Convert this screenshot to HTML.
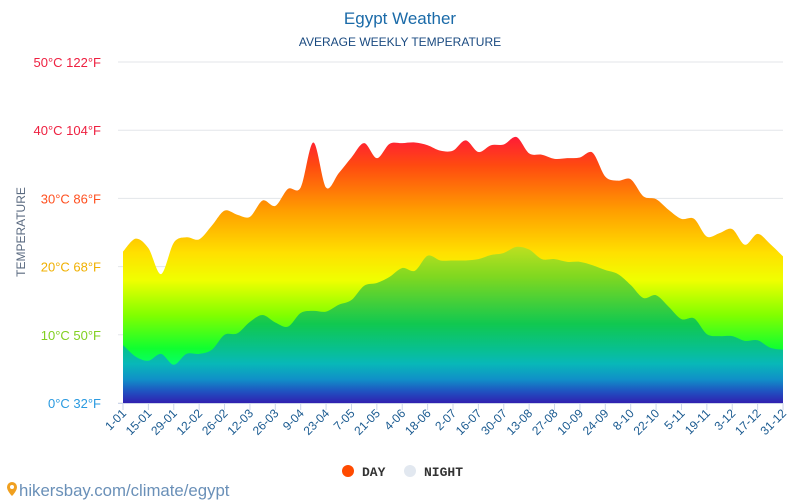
<!DOCTYPE html>
<html><head><meta charset="utf-8"><style>
body{margin:0;width:800px;height:500px;background:#fff;overflow:hidden;font-family:"Liberation Sans",sans-serif}
svg{display:block}
</style></head><body>
<svg id="chart" width="800" height="500">
<defs>
<linearGradient id="dayGrad" gradientUnits="userSpaceOnUse" x1="0" y1="130" x2="0" y2="403">
<stop offset="0" stop-color="#ff1040"/><stop offset="0.13" stop-color="#ff4a10"/><stop offset="0.3" stop-color="#ffa000"/>
<stop offset="0.45" stop-color="#ffe000"/><stop offset="0.55" stop-color="#f0ff00"/><stop offset="0.68" stop-color="#80ff00"/>
<stop offset="0.8" stop-color="#10ff30"/><stop offset="0.9" stop-color="#00ff90"/><stop offset="1" stop-color="#00ffb0"/>
</linearGradient>
<linearGradient id="nightGrad" gradientUnits="userSpaceOnUse" x1="0" y1="245" x2="0" y2="403">
<stop offset="0" stop-color="#c0e020"/><stop offset="0.2" stop-color="#80d820"/><stop offset="0.5" stop-color="#10c850"/>
<stop offset="0.66" stop-color="#08c090"/><stop offset="0.75" stop-color="#08b8b8"/><stop offset="0.85" stop-color="#1090c8"/>
<stop offset="0.93" stop-color="#2050c0"/><stop offset="1" stop-color="#3020b0"/>
</linearGradient>
</defs>
<text x="400" y="24" text-anchor="middle" font-size="17" fill="#1a6aa8">Egypt Weather</text>
<text x="400" y="46" text-anchor="middle" font-size="12" fill="#1a4a80">AVERAGE WEEKLY TEMPERATURE</text>
<text transform="translate(25,232) rotate(-90)" text-anchor="middle" font-size="12" fill="#5a6a80">TEMPERATURE</text>
<g id="grid"></g><g id="areas"></g><g id="xaxis"></g>
<g>
<g><circle cx="348" cy="471" r="6" fill="#ff4a00"/><text x="362" y="476" font-family="Liberation Mono,monospace" font-weight="bold" font-size="13" fill="#333">DAY</text></g>
<g><circle cx="410" cy="471" r="6" fill="#e2e8f0"/><text x="424" y="476" font-family="Liberation Mono,monospace" font-weight="bold" font-size="13" fill="#333">NIGHT</text></g>
</g>
<g>
<path d="M7 487a5 5 0 0 1 10 0c0 4-5 9-5 9s-5-5-5-9z" fill="#f0a020"/><circle cx="12" cy="487" r="2" fill="#fff"/>
<text x="19" y="496" font-size="16.8" fill="#6a90b8">hikersbay.com/climate/egypt</text>
</g>
</svg>
<script>
const labels=["1-01","15-01","29-01","12-02","26-02","12-03","26-03","9-04","23-04","7-05","21-05","4-06","18-06","2-07","16-07","30-07","13-08","27-08","10-09","24-09","8-10","22-10","5-11","19-11","3-12","17-12","31-12"];
const dayTemps=[22.2,24.1,22.7,18.9,23.5,24.3,24.0,26,28.2,27.6,27.3,29.7,28.9,31.4,31.6,38.2,31.6,33.7,36,38.1,35.9,38,38.1,38.2,37.8,37,37,38.5,36.8,37.8,37.9,39,36.6,36.4,35.8,35.9,36,36.7,33.2,32.6,32.8,30.3,29.9,28.3,27,27,24.4,24.9,25.5,23.2,24.8,23.3,21.5];
const nightTemps=[8.5,6.8,6.2,7.2,5.6,7.2,7.2,7.8,10,10.2,11.9,12.9,11.8,11.2,13.2,13.5,13.4,14.4,15.1,17.2,17.6,18.5,19.8,19.4,21.6,20.9,20.9,20.9,21.1,21.7,22,22.9,22.5,21.1,21.1,20.7,20.7,20.2,19.5,18.9,17.3,15.4,15.8,14.1,12.3,12.4,10.1,9.8,9.8,9.1,9.2,8.1,7.8];
const yTicks=[0,10,20,30,40,50];
const yTickColors=["#2a9ae0","#80d020","#f0b000","#ff5020","#ee2040","#ee2040"];
const NS="http://www.w3.org/2000/svg";
const X0=123,X1=783,Y0=403,PXD=6.82;
const xs=i=>X0+(X1-X0)*i/(dayTemps.length-1);
const ys=t=>Y0-t*PXD;
function mk(tag,attrs,parent){const e=document.createElementNS(NS,tag);for(const k in attrs)e.setAttribute(k,attrs[k]);parent.appendChild(e);return e;}
const grid=document.getElementById('grid');
yTicks.forEach((t,i)=>{
 const l=mk('line',{x1:118,x2:783,y1:ys(t),y2:ys(t),stroke:'#e3e6ea','stroke-width':1},grid);
 
 
 const tx=mk('text',{x:101,y:ys(t)+5,'text-anchor':'end','font-size':13,fill:yTickColors[i]},grid);
 tx.textContent=t+'°C '+Math.round(t*9/5+32)+'°F';
 
 
});
function smooth(vals){
 const p=vals.map((v,i)=>[xs(i),ys(v)]);
 let d='M'+p[0][0]+','+p[0][1];
 for(let i=0;i<p.length-1;i++){
  const a=p[i-1]||p[i],b=p[i],c=p[i+1],e=p[i+2]||c;
  const k=0.16;
  d+=' C'+(b[0]+(c[0]-a[0])*k)+','+(b[1]+(c[1]-a[1])*k)+' '+(c[0]-(e[0]-b[0])*k)+','+(c[1]-(e[1]-b[1])*k)+' '+c[0]+','+c[1];
 }
 return d+' L'+X1+','+Y0+' L'+X0+','+Y0+' Z';
}
const areas=document.getElementById('areas');
const dp=mk('path',{d:smooth(dayTemps),fill:'url(#dayGrad)'},areas);


const np=mk('path',{d:smooth(nightTemps),fill:'url(#nightGrad)'},areas);


const xa=document.getElementById('xaxis');
const ax=mk('line',{x1:118,x2:783,y1:403.5,y2:403.5,stroke:'#ccd6eb'},xa);


labels.forEach((lb,i)=>{
 const x=xs(i*2);
 const tk=mk('line',{x1:x,x2:x,y1:403,y2:410,stroke:'#ccd6eb'},xa);
 
 
 const t=mk('text',{x:x+4,y:414,'text-anchor':'end','font-size':12,fill:'#1a5a90',transform:'rotate(-45 '+(x+4)+' 414)'},xa);
 t.textContent=lb;
 
 
});
</script>
</body></html>
